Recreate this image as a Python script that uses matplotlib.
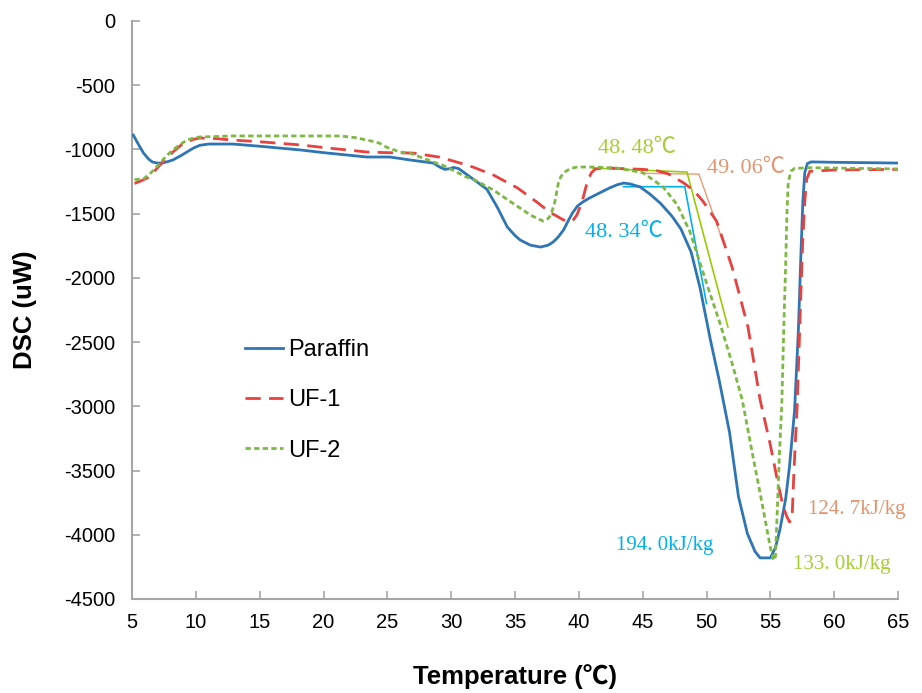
import matplotlib
matplotlib.use("Agg")
import matplotlib.pyplot as plt

# ---------------- data ----------------
paraffin_x = [5.1, 5.5, 5.9, 6.3, 6.6, 7.0, 7.35, 7.8, 8.2, 8.8, 9.3, 9.8, 10.3, 11.0, 12.9, 15.0,
              18.2, 20.0, 23.4, 25.2, 27.0, 28.6, 29.1, 29.5, 29.9, 30.2, 30.6, 31.5, 32.8, 33.6,
              34.4, 35.0, 35.4, 36.2, 37.0, 37.6, 38.0, 38.4, 38.8, 39.2, 39.5, 39.9, 40.3, 40.8,
              41.4, 42.4, 43.0, 43.5, 44.0, 44.8, 45.6, 46.4, 47.3, 48.0, 48.8, 49.5, 50.3, 51.0,
              51.8, 52.5, 53.2, 53.8, 54.2, 55.0, 55.4, 55.75, 56.2, 56.5, 56.9, 57.2, 57.4,
              57.55, 57.7, 57.9, 58.2, 60.0, 65.0]
paraffin_y = [-888, -960, -1028, -1075, -1098, -1106, -1106, -1095, -1082, -1050, -1020, -990, -968,
              -958, -958, -975, -1004, -1025, -1059, -1059, -1085, -1106, -1137, -1155, -1150, -1140,
              -1150, -1215, -1310, -1448, -1604, -1670, -1705, -1745, -1760, -1745, -1720, -1680,
              -1627, -1550, -1495, -1440, -1410, -1380, -1350, -1300, -1275, -1262, -1268, -1292,
              -1350, -1420, -1520, -1620, -1800, -2080, -2480, -2800, -3200, -3700, -3990, -4130,
              -4180, -4180, -4100, -3960, -3720, -3470, -3030, -2400, -1800, -1400, -1180, -1110,
              -1097, -1100, -1106]

uf1_x = [5.2, 5.7, 6.2, 6.7, 7.2, 7.7, 8.2, 8.8, 9.3, 9.8, 10.3, 11.5, 12.9, 15.0, 18.2, 20.0,
         23.4, 25.0, 27.0, 29.1, 30.5, 31.7, 33.3, 35.2, 36.7, 37.7, 38.8, 39.3, 39.6, 39.85,
         40.25, 40.7, 41.0, 41.3, 42.4, 45.0, 46.1, 47.0, 48.2, 49.0, 49.7, 50.8, 52.0, 53.25,
         54.2, 55.0, 55.6, 56.0, 56.3, 56.5, 56.7, 56.85, 57.1, 57.3, 57.5, 57.7, 57.85, 58.1,
         60.0, 65.0]
uf1_y = [-1265, -1245, -1222, -1175, -1121, -1070, -1020, -970, -942, -922, -911, -915, -927,
         -940, -965, -985, -1020, -1025, -1028, -1060, -1100, -1137, -1199, -1300, -1409, -1487,
         -1549, -1565, -1545, -1510, -1409, -1238, -1180, -1152, -1145, -1155, -1165, -1190,
         -1260, -1320, -1400, -1560, -1915, -2383, -2950, -3300, -3600, -3780, -3860, -3900,
         -3880, -3500, -3000, -2400, -1800, -1400, -1230, -1170, -1160, -1155]

uf2_x = [5.2, 5.9, 6.5, 7.2, 7.7, 8.2, 8.8, 9.3, 9.8, 10.3, 12.9, 18.2, 21.3, 22.5, 23.4, 24.0,
         24.4, 24.7, 25.0, 26.0, 26.8, 28.6, 29.5, 31.2, 31.7, 33.3, 34.8, 36.2, 36.8, 37.2,
         37.5, 37.7, 37.9, 38.1, 38.25, 38.4, 38.6, 38.9, 39.3, 39.85, 41.1, 43.0, 45.0, 46.6,
         47.7, 48.7, 50.0, 51.05, 52.0, 52.8, 53.6, 54.4, 55.0, 55.25, 55.4, 55.55, 55.7, 55.9,
         56.05, 56.2, 56.3, 56.4, 56.6, 56.9, 58.0, 65.0]
uf2_y = [-1235, -1230, -1180, -1106, -1050, -1004, -960, -927, -912, -903, -895, -895, -895, -908,
         -927, -940, -952, -970, -985, -1020, -1030, -1098, -1130, -1215, -1230, -1316, -1417,
         -1510, -1540, -1557, -1545, -1526, -1480, -1417, -1340, -1261, -1210, -1176, -1150,
         -1137, -1137, -1145, -1180, -1292, -1430, -1640, -2040, -2351, -2663, -2950, -3370,
         -3780, -4100, -4200, -4170, -3800, -3400, -2980, -2400, -1900, -1500, -1260, -1170,
         -1148, -1142, -1152]

# onset tangent constructions
tan_paraffin_x = [43.5, 48.3, 50.0]
tan_paraffin_y = [-1290, -1290, -2200]
tan_uf1_x = [45.0, 49.4, 51.3]
tan_uf1_y = [-1186, -1192, -1720]
tan_uf2_x = [41.1, 48.47, 51.68]
tan_uf2_y = [-1145, -1176, -2383]

labels = ["Paraffin", "UF-1", "UF-2"]
onset_texts = ["48. 34℃", "49. 06℃", "48. 48℃"]
enthalpy_texts = ["194. 0kJ/kg", "124. 7kJ/kg", "133. 0kJ/kg"]
x_ticks = [5, 10, 15, 20, 25, 30, 35, 40, 45, 50, 55, 60, 65]
y_ticks = [0, -500, -1000, -1500, -2000, -2500, -3000, -3500, -4000, -4500]

# ---------------- figure ----------------
C_BLUE = "#2E75B6"
C_RED = "#E8413F"
C_GREEN = "#7DB843"
C_CYAN = "#00B0F0"
C_LIME = "#99CC00"
C_SALMON = "#EE9A72"
C_SALMON_T = "#E39572"
C_GREEN_T = "#A5CF2E"

fig = plt.figure(figsize=(9.22, 6.93), dpi=100)
ax = fig.add_axes([132/922, 1-599/693, (898-132)/922, (599-21)/693])

ax.plot(paraffin_x, paraffin_y, color=C_BLUE, lw=2.0, label=labels[0], zorder=3)
ax.plot(uf1_x, uf1_y, color=C_RED, lw=2.0, dashes=(5.5, 3.0), label=labels[1], zorder=3)
ax.plot(uf2_x, uf2_y, color=C_GREEN, lw=2.0, dashes=(1.9, 1.2), label=labels[2], zorder=3)

ax.plot(tan_paraffin_x, tan_paraffin_y, color=C_CYAN, lw=1.2, zorder=2)
ax.plot(tan_uf1_x, tan_uf1_y, color=C_SALMON, lw=1.0, zorder=2)
ax.plot(tan_uf2_x, tan_uf2_y, color=C_LIME, lw=1.2, zorder=2)

serif = ["Liberation Serif", "Noto Sans CJK SC", "DejaVu Sans"]
ofont = dict(family=serif, fontsize=16)
efont = dict(family=serif, fontsize=15)
ax.text(40.5, -1643, onset_texts[0], color=C_CYAN, ha="left", va="center", **ofont)
ax.text(50.05, -1145, onset_texts[1], color=C_SALMON_T, ha="left", va="center", **ofont)
ax.text(41.5, -989, onset_texts[2], color=C_GREEN_T, ha="left", va="center", **ofont)
ax.text(42.9, -4080, enthalpy_texts[0], color=C_CYAN, ha="left", va="center", **efont)
ax.text(57.95, -3800, enthalpy_texts[1], color=C_SALMON_T, ha="left", va="center", **efont)
ax.text(56.75, -4235, enthalpy_texts[2], color=C_GREEN_T, ha="left", va="center", **efont)

ax.set_xlim(5, 65)
ax.set_ylim(-4500, 0)
ax.set_xticks(x_ticks)
ax.set_yticks(y_ticks)
ax.set_xticklabels([str(v) for v in x_ticks])
ax.set_yticklabels([str(v) for v in y_ticks])

for s in ["top", "right"]:
    ax.spines[s].set_visible(False)
for s in ["left", "bottom"]:
    ax.spines[s].set_color("#A6A6A6")
    ax.spines[s].set_linewidth(1.5)
ax.tick_params(direction="in", length=6, width=1.2, color="#A6A6A6",
               labelsize=14.5, labelcolor="black")
ax.tick_params(axis="x", pad=10)
ax.tick_params(axis="y", pad=12)
for lab in ax.get_xticklabels() + ax.get_yticklabels():
    lab.set_family("Liberation Sans")

lfont = ["Liberation Sans", "Noto Sans CJK SC", "DejaVu Sans"]
ax.set_xlabel("Temperature (℃)", fontsize=18.5, fontweight="bold", family=lfont)
ax.set_ylabel("DSC (uW)", fontsize=18.5, fontweight="bold", family=lfont)
ax.xaxis.set_label_coords(0.5, (599-677)/578)
ax.xaxis.label.set_va("center")
ax.yaxis.set_label_coords((25-132)/766, (599-310)/578)
ax.yaxis.label.set_va("center")

leg = ax.legend(loc="upper left", bbox_to_anchor=((245-132)/766, (599-339)/578),
                frameon=False, borderpad=0, borderaxespad=0, handlelength=1.6,
                handletextpad=0.22, labelspacing=1.2,
                prop={"family": "Liberation Sans", "size": 17})

fig.savefig("out.png", dpi=100)
